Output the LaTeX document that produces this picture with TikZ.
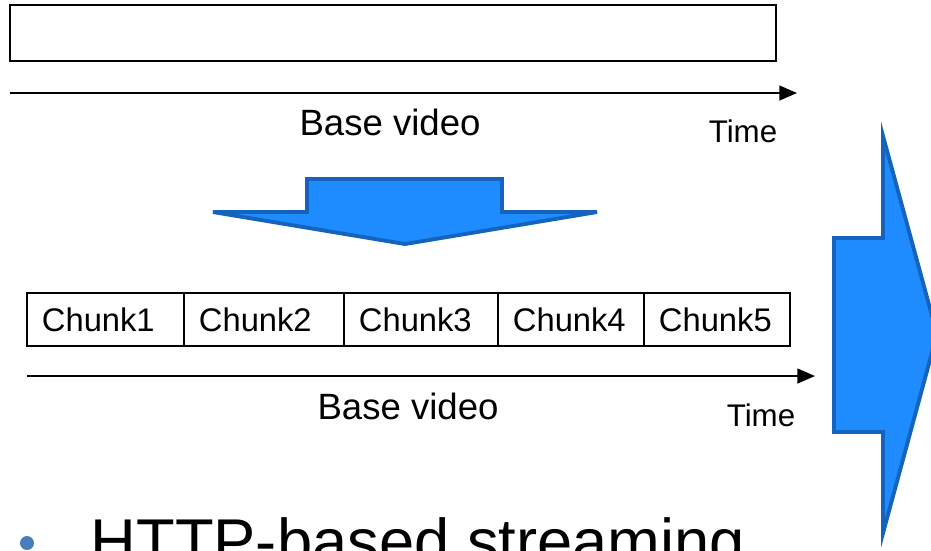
\documentclass[tikz,border=0pt]{standalone}
\usepackage{fontspec}
\setmainfont{Liberation Sans}
\usetikzlibrary{arrows.meta}
\definecolor{arrowfill}{RGB}{30,140,255}
\definecolor{arrowline}{RGB}{20,100,190}
\definecolor{bulletblue}{RGB}{74,126,187}

\begin{document}
\begin{tikzpicture}[x=0.01cm,y=-0.01cm,
  box/.style={draw,line width=0.6pt,inner sep=0pt,outer sep=0pt,minimum height=0.53cm},
  chunk/.style={box,align=left,inner xsep=0.15cm,font=\fontsize{9.3}{11}\selectfont},
  timeline/.style={-{Triangle[length=5pt,width=4.2pt]},line width=0.5pt},
  lbl/.style={inner sep=0pt,font=\fontsize{10.4}{12}\selectfont},
  timelbl/.style={inner sep=0pt,font=\fontsize{8.9}{11}\selectfont},
  bigarrow/.style={fill=arrowfill,draw=arrowline,line width=1.1pt,line join=miter}]
\useasboundingbox (0,0) rectangle (931,550);
\clip (0,0) rectangle (931,550);

% base video before splitting
\node[box,minimum width=7.66cm,minimum height=0.56cm] (base) at (393,33) {};
\coordinate (t1s) at (10,93);
\coordinate (t1e) at (797,93);
\draw[timeline] (t1s) -- (t1e);
\node[lbl] (base1) at (390,122) {Base video};
\node[timelbl] (time1) at (743,131) {Time};

% split arrow
\draw[bigarrow] (307,179) -- (502,179) -- (502,212) -- (597,212) -- (405,244)
  -- (213,212) -- (307,212) -- cycle;

% chunks
\node[chunk,text width=1.27cm] (c1) at (105.5,319.5) {Chunk1};
\node[chunk,text width=1.30cm] (c2) at (264,319.5) {Chunk2};
\node[chunk,text width=1.24cm] (c3) at (421,319.5) {Chunk3};
\node[chunk,text width=1.16cm] (c4) at (571,319.5) {Chunk4};
\node[chunk,text width=1.16cm] (c5) at (717,319.5) {Chunk5};
\coordinate (t2s) at (27,376);
\coordinate (t2e) at (815,376);
\draw[timeline] (t2s) -- (t2e);
\node[lbl] (base2) at (408,406) {Base video};
\node[timelbl] (time2) at (761,415) {Time};

% right arrow
\draw[bigarrow] (834,238) -- (883,238) -- (883,136) -- (937,334) -- (883,533)
  -- (883,432) -- (834,432) -- cycle;

% bullet
\node[circle,fill=bulletblue,minimum size=0.14cm,inner sep=0pt] (dot) at (27,543) {};
\node[anchor=base west,inner sep=0pt,font=\fontsize{18}{22}\selectfont] (http) at (90,563) {HTTP-based streaming};

\end{tikzpicture}
\end{document}
